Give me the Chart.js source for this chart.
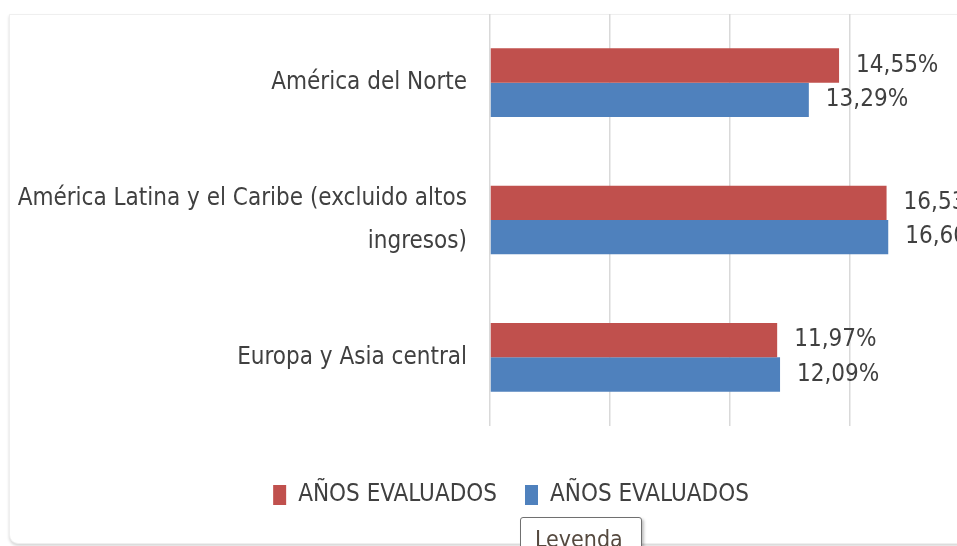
<!DOCTYPE html>
<html lang="es">
<head>
<meta charset="utf-8">
<script src="https://cdn.jsdelivr.net/npm/chart.js@4/dist/chart.umd.min.js"></script>
<style>
  html, body { margin: 0; padding: 0; background: #fff; }
  body { width: 957px; height: 546px; overflow: hidden; position: relative; }
  .card {
    position: absolute; left: 9px; top: 14px; width: 1040px; height: 528px;
    border: 1px solid #efefef; border-bottom-left-radius: 9px;
    box-shadow: 0 2px 3px rgba(0,0,0,0.16); background: #fff;
  }
  .chart-box { position: absolute; left: 9px; top: 14px; width: 1004px; height: 529px; }
  .tip {
    position: absolute; left: 520px; top: 517px; width: 122px; height: 40px;
    border: 1px solid #707070; border-radius: 3px; background: #fff;
    box-shadow: 2px 2px 3px rgba(0,0,0,0.25);
    font: 23px "DejaVu Sans Condensed", sans-serif; color: #55493f;
    padding: 8px 0 0 14px; box-sizing: border-box;
  }
</style>
</head>
<body>
<div class="card"></div>
<div class="chart-box"><canvas id="chart"></canvas></div>
<div class="tip">Leyenda</div>
<script>
const categories = [
  'América del Norte',
  ['América Latina y el Caribe (excluido altos', 'ingresos)'],
  'Europa y Asia central'
];
const seriesNames = ['AÑOS EVALUADOS', 'AÑOS EVALUADOS'];
const redValues = [14.55, 16.53, 11.97];
const blueValues = [13.29, 16.60, 12.09];
const xMax = 21.8;

const FONT = '"DejaVu Sans Condensed", "Liberation Sans", sans-serif';
const SIZE = 24;
const TEXT = '#404040';

function fmt(v) {
  return v.toFixed(2).replace('.', ',') + '%';
}

// etiquetas de valor al final de cada barra
const valueLabels = {
  id: 'valueLabels',
  afterDatasetsDraw(chart) {
    const ctx = chart.ctx;
    ctx.save();
    ctx.font = SIZE + 'px ' + FONT;
    ctx.fillStyle = TEXT;
    ctx.textAlign = 'left';
    ctx.textBaseline = 'middle';
    chart.data.datasets.forEach((ds, i) => {
      chart.getDatasetMeta(i).data.forEach((bar, j) => {
        ctx.fillText(fmt(ds.data[j]), bar.x + 17, bar.y);
      });
    });
    ctx.restore();
  }
};

new Chart(document.getElementById('chart'), {
  type: 'bar',
  data: {
    labels: categories,
    datasets: [
      { label: seriesNames[0], data: redValues, backgroundColor: '#C0504D' },
      { label: seriesNames[1], data: blueValues, backgroundColor: '#4F81BD' }
    ]
  },
  options: {
    indexAxis: 'y',
    responsive: true,
    maintainAspectRatio: false,
    animation: false,
    datasets: { bar: { categoryPercentage: 0.5, barPercentage: 1.0 } },
    layout: { padding: { top: 0, right: 0, left: 0, bottom: 26 } },
    scales: {
      x: {
        min: 0,
        max: xMax,
        afterFit(scale) { scale.height = 29; },
        ticks: { display: false, stepSize: 5 },
        grid: { color: '#d9d9d9', lineWidth: 1.5, drawTicks: false },
        border: { display: false }
      },
      y: {
        afterFit(scale) {
          scale.width = 481;
          scale.paddingTop = 0;
          scale.paddingBottom = 0;
        },
        grid: { display: false, drawTicks: false },
        border: { display: false },
        ticks: {
          padding: 23,
          color: TEXT,
          font: { family: FONT, size: SIZE, lineHeight: 1.8 }
        }
      }
    },
    plugins: {
      tooltip: { enabled: false },
      legend: {
        position: 'bottom',
        labels: {
          color: TEXT,
          boxWidth: 13,
          boxHeight: 20,
          padding: 28,
          font: { family: FONT, size: SIZE }
        }
      }
    }
  },
  plugins: [valueLabels]
});
</script>
</body>
</html>
